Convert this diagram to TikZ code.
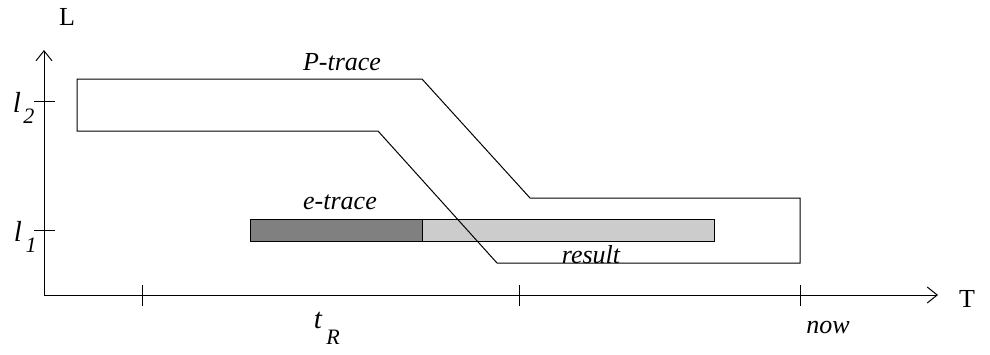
\documentclass[tikz,border=0pt]{standalone}
\usepackage{fontspec}
\setmainfont{Liberation Serif}
\usetikzlibrary{arrows.meta}
\begin{document}
\begin{tikzpicture}[x=0.5pt,y=-0.5pt,
  ln/.style={line width=0.5pt},
  lbl/.style={font=\fontsize{13}{15}\selectfont\itshape, inner sep=0pt},
  big/.style={font=\fontsize{14.5}{16}\selectfont\itshape, inner sep=0pt},
  up/.style={font=\fontsize{13}{15}\selectfont, inner sep=0pt},
  sb/.style={font=\fontsize{11}{13}\selectfont\itshape, inner sep=0pt},
  axarrow/.style={ln,-{Straight Barb[length=5pt,width=8pt]}}]
\useasboundingbox (0,0) rectangle (990,354);
% axes
\coordinate (O) at (44,295);
\coordinate (Ytop) at (44,50);
\coordinate (Xend) at (938,295);
\draw[axarrow] (O) -- (Ytop);
\draw[axarrow] (O) -- (Xend);
% ticks
\foreach \x/\n in {142/a,519/b,800/c} \draw[ln] (\x,285) -- (\x,306);
\draw[ln] (34,101) -- (55,101);
\draw[ln] (34,230) -- (55,230);
% labels
\node[up] (L) at (67,17) {L};
\node[up] (T) at (967,299) {T};
\node[big] (l2) at (17,102) {l};
\node[sb] (l2s) at (29,116) {2};
\node[big] (l1) at (18,231) {l};
\node[sb] (l1s) at (31,245) {1};
\node[big] (tR) at (318,320) {t};
\node[sb] (tRs) at (333,337) {R};
\node[lbl] (now) at (828,327) {now};
% bars
\fill[black!50] (250,219) rectangle (422,241);
\fill[black!20] (422,219) rectangle (714,241);
\draw[ln] (250,219) rectangle (714,241);
\draw[ln] (422,219) -- (422,241);
% P-trace region
\draw[ln] (77,79) -- (422,79) -- (530,198) -- (800,198) -- (800,263) -- (497,263) -- (378,131) -- (77,131) -- cycle;
\node[lbl] (ptrace) at (342,62) {P-trace};
\node[lbl] (etrace) at (340,202) {e-trace};
\node[lbl] (result) at (591,255) {result};
\end{tikzpicture}
\end{document}
